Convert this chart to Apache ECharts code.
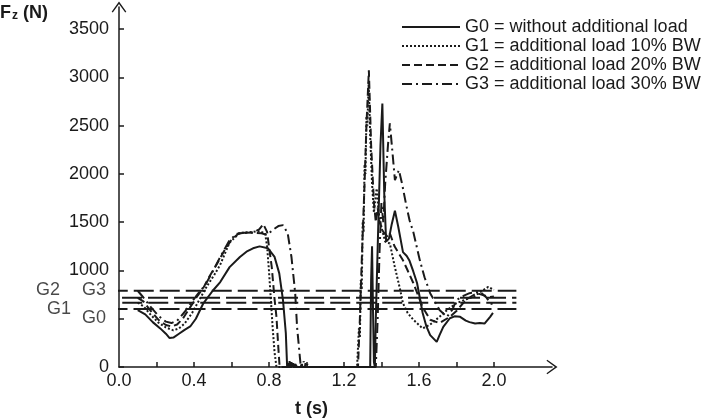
<!DOCTYPE html>
<html>
<head>
<meta charset="utf-8">
<script src="https://cdn.jsdelivr.net/npm/echarts@6.0.0/dist/echarts.min.js"></script>
<style>
html, body { margin: 0; padding: 0; background: #fff; }
#chart { width: 721px; height: 419px; }
</style>
</head>
<body>
<div id="chart"></div>
<script>
var xTicks = [0.2, 0.4, 0.6, 0.8, 1.0, 1.2, 1.4, 1.6, 1.8, 2.0];
var xLabels = [0.0, 0.4, 0.8, 1.2, 1.6, 2.0];
var yTicks = [0, 500, 1000, 1500, 2000, 2500, 3000, 3500];
var yLabels = [0, 1000, 1500, 2000, 2500, 3000, 3500];
var seriesNames = ['G0 = without additional load', 'G1 = additional load 10% BW',
	'G2 = additional load 20% BW', 'G3 = additional load 30% BW'];

// body weight levels of the groups (N)
var refNames = ['G0', 'G1', 'G2', 'G3'];
var refLevels = [600, 666, 717, 790];
var refStart = [-0.2, -0.26, -0.4, -0.06];
var refEnd = 2.12;
// label anchors [t, F, text]
var refLabels = [[-0.133, 512, 'G0'], [-0.32, 600, 'G1'], [-0.379, 797, 'G2'], [-0.133, 797, 'G3']];

// [t (s), Fz (N)]
var g0 = [[0.10,590],[0.14,545],[0.18,465],[0.22,400],[0.25,345],[0.27,300],[0.29,305],[0.32,345],[0.35,385],
	[0.38,420],[0.41,500],[0.45,660],[0.50,790],[0.54,880],[0.59,1035],[0.645,1140],[0.68,1195],[0.715,1230],
	[0.75,1250],[0.795,1230],[0.83,1140],[0.855,970],[0.875,690],[0.89,350],[0.897,0],[0.90,40],[0.905,-30],
	[0.91,60],[0.915,-20],[0.92,50],[0.925,0],[0.93,40],[0.935,-30],[0.94,30],[0.95,0],[1.34,0],[1.345,900],
	[1.35,1250],[1.355,600],[1.36,50],[1.365,0],[1.37,500],[1.385,1600],[1.395,2300],[1.405,2730],[1.415,1800],
	[1.425,1300],[1.44,1330],[1.455,1480],[1.472,1620],[1.49,1450],[1.515,1190],[1.535,1150],[1.55,1100],
	[1.57,990],[1.59,870],[1.62,560],[1.64,420],[1.66,330],[1.695,260],[1.71,330],[1.73,415],[1.765,505],
	[1.79,525],[1.82,520],[1.85,480],[1.87,465],[1.90,450],[1.925,455],[1.95,450],[1.98,520],[1.995,560]];

var g1 = [[0.10,666],[0.13,630],[0.17,540],[0.21,460],[0.25,410],[0.29,380],[0.32,400],[0.35,450],[0.39,560],
	[0.43,700],[0.47,840],[0.51,960],[0.54,1060],[0.59,1290],[0.645,1390],[0.715,1400],[0.75,1410],[0.78,1380],
	[0.79,1250],[0.80,1000],[0.81,700],[0.82,400],[0.83,150],[0.84,0],[1.27,0],[1.28,400],[1.285,300],
	[1.29,900],[1.295,800],[1.30,1500],[1.305,1400],[1.31,2100],[1.315,2000],[1.32,2600],[1.325,2500],
	[1.332,2950],[1.34,2400],[1.35,1900],[1.36,1600],[1.368,1750],[1.375,1850],[1.385,1600],[1.40,1450],
	[1.42,1300],[1.445,1280],[1.47,1050],[1.50,800],[1.515,660],[1.54,560],[1.57,490],[1.62,400],[1.66,440],
	[1.71,520],[1.75,590],[1.80,660],[1.85,700],[1.89,725],[1.93,780],[1.97,830],[2.0,800]];

var g2 = [[0.10,717],[0.13,680],[0.17,580],[0.21,490],[0.25,435],[0.28,420],[0.31,440],[0.34,500],[0.38,620],
	[0.42,740],[0.45,820],[0.48,930],[0.52,1060],[0.56,1200],[0.60,1320],[0.64,1385],[0.68,1390],[0.72,1395],
	[0.75,1430],[0.77,1480],[0.79,1400],[0.80,1250],[0.815,1035],[0.83,700],[0.84,520],[0.85,200],[0.857,0],
	[1.275,0],[1.285,500],[1.295,1100],[1.31,1900],[1.32,2500],[1.333,3075],[1.345,2300],[1.36,1700],
	[1.37,1500],[1.38,1650],[1.39,1500],[1.41,1400],[1.435,1345],[1.445,1385],[1.47,1250],[1.515,1105],
	[1.54,1000],[1.57,870],[1.62,620],[1.66,490],[1.71,455],[1.765,520],[1.80,580],[1.835,660],[1.87,720],
	[1.91,765],[1.95,740],[1.98,725],[2.0,730]];

var g3 = [[0.10,790],[0.13,720],[0.17,620],[0.21,530],[0.25,470],[0.28,455],[0.31,480],[0.35,570],[0.39,680],
	[0.43,780],[0.46,850],[0.50,990],[0.54,1140],[0.59,1315],[0.63,1380],[0.67,1390],[0.72,1390],[0.76,1385],
	[0.79,1370],[0.80,1360],[0.82,1420],[0.85,1460],[0.875,1470],[0.90,1385],[0.92,1140],[0.94,765],[0.95,415],
	[0.965,100],[0.97,0],[0.975,50],[0.98,-30],[0.985,60],[0.99,-20],[0.995,40],[1.0,0],[1.005,30],[1.01,0],
	[1.37,0],[1.38,500],[1.39,1200],[1.40,1700],[1.41,1500],[1.42,1900],[1.435,2300],[1.445,2525],[1.46,2200],
	[1.472,1935],[1.485,2000],[1.493,2040],[1.51,1900],[1.53,1700],[1.55,1520],[1.57,1400],[1.605,1105],
	[1.63,930],[1.66,765],[1.71,590],[1.75,520],[1.78,600],[1.80,695],[1.84,740],[1.87,765],[1.925,780],
	[1.96,720],[1.98,660],[2.0,650]];

var font = 'Liberation Sans';
var ink = '#1a1a1a';
var chevron = 'path://M0,0 L10,14 L8.5,15 L0,3.5 L-8.5,15 L-10,14 Z';

var myChart = echarts.init(document.getElementById('chart'));

var curves = [
	{ name: seriesNames[0], data: g0, type: 'solid' },
	{ name: seriesNames[1], data: g1, type: 'dotted' },
	{ name: seriesNames[2], data: g2, type: [8, 4] },
	{ name: seriesNames[3], data: g3, type: [10, 4, 2, 4] }
];

var series = curves.map(function(c) {
	return {
		name: c.name,
		type: 'line',
		data: c.data,
		symbol: 'none',
		lineStyle: { color: ink, width: 2, type: c.type },
		itemStyle: { color: ink },
		z: 3
	};
});

refLevels.forEach(function(v, i) {
	series.push({
		name: refNames[i],
		type: 'line',
		data: [[refStart[i], v], [refEnd, v]],
		symbol: 'none',
		clip: false,
		lineStyle: { color: ink, width: 2, type: [20, 6] },
		z: 2
	});
});

series.push({
	name: 'labels',
	type: 'scatter',
	data: refLabels,
	symbolSize: 0,
	clip: false,
	label: {
		show: true,
		position: 'inside',
		formatter: function(p) { return p.value[2]; },
		color: ink,
		fontFamily: font,
		fontSize: 18
	}
});

option = {
	animation: false,
	backgroundColor: '#fff',
	grid: {
		left: 119,
		right: 169,
		top: 7,
		bottom: 52
	},
	legend: {
		data: seriesNames,
		orient: 'vertical',
		left: 401,
		top: 18,
		padding: 0,
		itemWidth: 58,
		itemHeight: 14,
		itemGap: 1,
		itemStyle: { opacity: 0 },
		textStyle: { fontFamily: font, fontSize: 18, lineHeight: 14, color: ink }
	},
	xAxis: {
		type: 'value',
		min: 0,
		max: 2.31,
		axisLine: {
			lineStyle: { color: ink, width: 1.5 },
			symbol: ['none', chevron],
			symbolSize: [15, 11]
		},
		axisTick: { inside: true, length: 5, customValues: xTicks, lineStyle: { color: ink, width: 1.5 } },
		axisLabel: {
			customValues: xLabels,
			formatter: function(v) { return v.toFixed(1); },
			margin: 5,
			fontFamily: font,
			fontSize: 18,
			color: ink
		},
		splitLine: { show: false }
	},
	yAxis: {
		type: 'value',
		min: 0,
		max: 3730,
		axisLine: {
			show: true,
			lineStyle: { color: ink, width: 1.5 },
			symbol: ['none', chevron],
			symbolSize: [15, 11]
		},
		axisTick: { show: true, inside: true, length: 5, customValues: yTicks, lineStyle: { color: ink, width: 1.5 } },
		axisLabel: {
			customValues: yLabels,
			formatter: function(v) { return String(v); },
			margin: 10,
			fontFamily: font,
			fontSize: 18,
			color: ink
		},
		splitLine: { show: false }
	},
	graphic: [
		{
			type: 'text',
			left: 0,
			top: 4,
			style: {
				text: '{b|F}{s|z}{b| (N)}',
				rich: {
					b: { fontFamily: font, fontSize: 18, fontWeight: 'bold', fill: ink },
					s: { fontFamily: font, fontSize: 12, fontWeight: 'bold', fill: ink, padding: [6, 0, 0, 1] }
				}
			}
		},
		{
			type: 'text',
			left: 295,
			top: 400,
			style: { text: 't (s)', fontFamily: font, fontSize: 18, fontWeight: 'bold', fill: ink }
		}
	],
	series: series
};
myChart.setOption(option);
</script>
</body>
</html>
